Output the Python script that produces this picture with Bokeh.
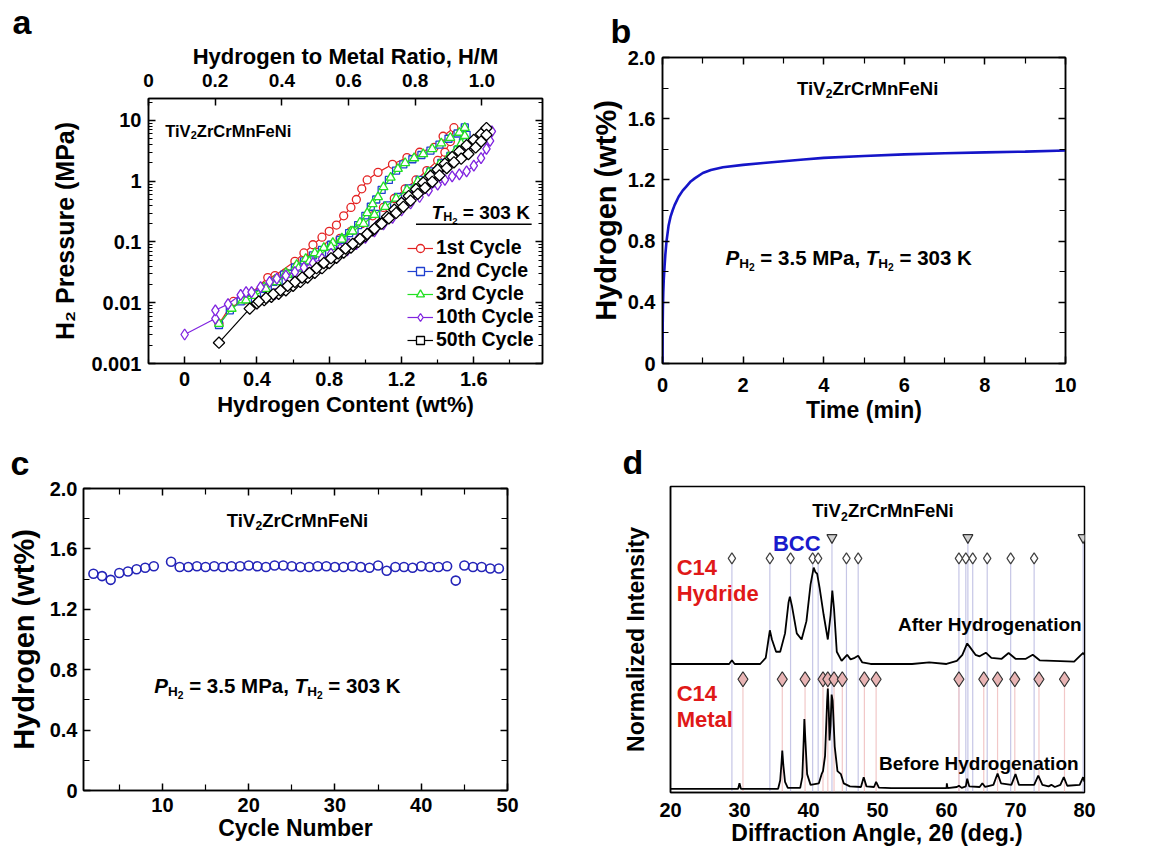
from bokeh.plotting import figure
from bokeh.models import (Range1d, LinearAxis, LogAxis, FixedTicker, CustomJSTickFormatter,
                          Legend, LegendItem)
from bokeh.layouts import column, row
from bokeh.embed import file_html
from bokeh.resources import INLINE
from bokeh.core.properties import value

FONT = "Liberation Sans"

# ---------------- DATA ----------------
# (a) PCI isotherms, hydrogen content (wt%) vs H2 pressure (MPa)
c1_wt = [0.19, 0.27, 0.33, 0.46, 0.50, 0.61, 0.66, 0.71, 0.76, 0.80, 0.84, 0.88, 0.92, 0.95, 0.98, 1.01,
         1.07, 1.15, 1.23, 1.30, 1.38, 1.43, 1.49,
         1.47, 1.44, 1.40, 1.34, 1.28, 1.22, 1.16, 1.10, 1.04, 0.98, 0.92, 0.86, 0.80, 0.74, 0.68, 0.62,
         0.56, 0.50, 0.44, 0.38]
c1_p = [0.0045, 0.0105, 0.011, 0.026, 0.028, 0.048, 0.066, 0.09, 0.12, 0.15, 0.19, 0.27, 0.37, 0.5, 0.75, 1.05,
        1.4, 1.9, 2.45, 3.0, 3.6, 5.5, 7.6,
        4.5, 3.0, 2.2, 1.5, 1.05, 0.75, 0.52, 0.37, 0.27, 0.2, 0.15, 0.115, 0.088, 0.068, 0.052, 0.04,
        0.031, 0.024, 0.018, 0.014]
c2_wt = [0.19, 0.25, 0.31, 0.37, 0.43, 0.49, 0.55, 0.61, 0.66, 0.71, 0.76, 0.81, 0.86, 0.91, 0.96, 1.00,
         1.03, 1.06, 1.09, 1.13, 1.17, 1.21, 1.26, 1.31, 1.36, 1.41, 1.46, 1.51, 1.55,
         1.56, 1.54, 1.51, 1.47, 1.42, 1.36, 1.30, 1.24, 1.18, 1.12, 1.06, 1.00, 0.94, 0.88, 0.82, 0.76,
         0.70, 0.64, 0.58, 0.52, 0.46, 0.40, 0.35]
c2_p = [0.0043, 0.0075, 0.0105, 0.0135, 0.017, 0.022, 0.029, 0.038, 0.048, 0.06, 0.074, 0.09, 0.108, 0.14,
        0.19, 0.27, 0.38, 0.5, 0.72, 1.05, 1.5, 1.9, 2.3, 2.7, 3.2, 4.0, 5.0, 6.1, 7.7,
        5.8, 4.4, 3.3, 2.6, 2.0, 1.45, 1.05, 0.76, 0.55, 0.4, 0.29, 0.21, 0.155, 0.115, 0.086, 0.065,
        0.05, 0.038, 0.03, 0.023, 0.018, 0.014, 0.0115]
c3_wt = [0.19, 0.26, 0.32, 0.38, 0.44, 0.50, 0.56, 0.62, 0.67, 0.72, 0.77, 0.82, 0.87, 0.92, 0.97, 1.01,
         1.04, 1.07, 1.10, 1.14, 1.18, 1.22, 1.27, 1.32, 1.37, 1.42, 1.47, 1.52, 1.55,
         1.55, 1.53, 1.50, 1.46, 1.41, 1.35, 1.29, 1.23, 1.17, 1.11, 1.05, 0.99, 0.93, 0.87, 0.81, 0.75,
         0.69, 0.63, 0.57, 0.51, 0.45, 0.39, 0.34]
c3_p = [0.0045, 0.008, 0.011, 0.014, 0.018, 0.024, 0.031, 0.042, 0.053, 0.066, 0.08, 0.097, 0.115, 0.15,
        0.21, 0.3, 0.42, 0.55, 0.8, 1.15, 1.6, 2.0, 2.4, 2.8, 3.4, 4.2, 5.2, 6.3, 7.6,
        5.6, 4.2, 3.2, 2.5, 1.9, 1.4, 1.0, 0.72, 0.52, 0.38, 0.28, 0.2, 0.15, 0.11, 0.083, 0.063,
        0.048, 0.037, 0.029, 0.022, 0.017, 0.013, 0.011]
c10_wt = [0.00, 0.17, 0.17, 0.24, 0.31, 0.34, 0.37, 0.42, 0.47, 0.51, 0.56, 0.61, 0.66, 0.71, 0.76, 0.81,
          0.86, 0.91, 0.96, 1.01, 1.06, 1.11, 1.16, 1.21, 1.26, 1.31, 1.36, 1.41, 1.46, 1.51, 1.56, 1.61,
          1.66, 1.70,
          1.69, 1.67, 1.64, 1.60, 1.56, 1.52, 1.48, 1.44, 1.40, 1.35, 1.30, 1.25, 1.20, 1.15, 1.10, 1.05,
          1.00, 0.95, 0.90, 0.85, 0.80, 0.75, 0.70, 0.65, 0.60, 0.55, 0.50, 0.45, 0.40]
c10_p = [0.003, 0.0055, 0.0075, 0.0095, 0.0135, 0.015, 0.015, 0.018, 0.022, 0.025, 0.028, 0.032, 0.038,
         0.045, 0.053, 0.064, 0.077, 0.093, 0.113, 0.14, 0.18, 0.24, 0.32, 0.43, 0.57, 0.76, 1.0, 1.35,
         1.8, 2.4, 3.1, 4.0, 5.2, 6.6,
         4.6, 3.4, 2.4, 1.8, 1.45, 1.3, 1.2, 1.05, 0.88, 0.7, 0.55, 0.43, 0.33, 0.25, 0.195, 0.15,
         0.117, 0.092, 0.073, 0.058, 0.047, 0.038, 0.031, 0.025, 0.021, 0.017, 0.014, 0.012, 0.0098]
c50_wt = [0.19, 0.36, 0.40, 0.44, 0.48, 0.52, 0.56, 0.60, 0.64, 0.68, 0.72, 0.76, 0.80, 0.84, 0.88, 0.92,
          0.96, 1.00, 1.04, 1.08, 1.12, 1.16, 1.20, 1.24, 1.28, 1.32, 1.36, 1.40, 1.44, 1.48, 1.52, 1.56,
          1.60, 1.64, 1.67,
          1.67, 1.64, 1.61, 1.57, 1.53, 1.49, 1.45, 1.41, 1.37, 1.33, 1.29, 1.25, 1.21, 1.17, 1.13, 1.09,
          1.05, 1.01, 0.97, 0.93, 0.89, 0.85, 0.81, 0.77, 0.73, 0.69, 0.65, 0.61, 0.57, 0.53, 0.49, 0.45,
          0.41]
c50_p = [0.0022, 0.008, 0.0098, 0.011, 0.0125, 0.014, 0.016, 0.019, 0.022, 0.026, 0.031, 0.037, 0.045,
         0.055, 0.067, 0.081, 0.1, 0.125, 0.155, 0.2, 0.26, 0.34, 0.44, 0.57, 0.74, 0.95, 1.22, 1.55, 1.95,
         2.5, 3.1, 3.9, 4.8, 6.0, 7.5,
         5.8, 4.5, 3.6, 2.8, 2.35, 2.05, 1.65, 1.25, 0.98, 0.78, 0.62, 0.48, 0.38, 0.3, 0.245, 0.2,
         0.165, 0.135, 0.112, 0.093, 0.078, 0.065, 0.054, 0.045, 0.037, 0.031, 0.026, 0.022, 0.019, 0.016,
         0.0138, 0.012, 0.0105]
cycle_labels = ["1st Cycle", "2nd Cycle", "3rd Cycle", "10th Cycle", "50th Cycle"]
hm_ticks = [0, 0.2, 0.4, 0.6, 0.8, 1.0]

# (b) absorption kinetics
time_min = [0, 0.005, 0.01, 0.02, 0.03, 0.05, 0.07, 0.1, 0.15, 0.2, 0.25, 0.3, 0.4, 0.5, 0.6, 0.7, 0.8,
            1.0, 1.2, 1.5, 2.0, 2.5, 3.0, 3.5, 4.0, 5.0, 6.0, 7.0, 8.0, 9.0, 10.0]
h_kin = [0, 0.25, 0.36, 0.47, 0.54, 0.63, 0.71, 0.80, 0.90, 0.96, 1.0, 1.035, 1.09, 1.13, 1.16, 1.19, 1.21,
         1.245, 1.265, 1.283, 1.298, 1.31, 1.322, 1.333, 1.344, 1.356, 1.367, 1.374, 1.38, 1.385, 1.392]

# (c) cycling capacity
cycle_no = [2, 3, 4, 5, 6, 7, 8, 9, 11, 12, 13, 14, 15, 16, 17, 18, 19, 20, 21, 22, 23, 24, 25, 26, 27, 28,
            29, 30, 31, 32, 33, 34, 35, 36, 37, 38, 39, 40, 41, 42, 43, 44, 45, 46, 47, 48, 49]
h_cycle = [1.435, 1.42, 1.395, 1.44, 1.45, 1.465, 1.475, 1.485, 1.515, 1.48, 1.48, 1.485, 1.48, 1.485, 1.48,
           1.485, 1.485, 1.49, 1.485, 1.48, 1.49, 1.49, 1.485, 1.48, 1.48, 1.485, 1.485, 1.48, 1.48, 1.485,
           1.48, 1.475, 1.49, 1.455, 1.48, 1.48, 1.475, 1.485, 1.48, 1.48, 1.485, 1.39, 1.49, 1.48, 1.48,
           1.47, 1.47]

# (d) XRD patterns (normalized)
tt_after = [20, 28.5, 28.9, 29.3, 33.0, 33.8, 34.2, 34.4, 34.7, 35.3, 35.9, 36.6, 37.1, 37.3, 37.6, 38.3,
            39.0, 39.7, 40.3, 40.75, 41.0, 41.25, 41.6, 42.2, 42.8, 43.2, 43.45, 43.7, 44.1, 44.8, 45.6,
            46.1, 46.7, 47.2, 47.8, 49, 55, 57.5, 60, 61.5, 62.3, 63.0, 63.4, 64.2, 64.8, 65.7, 66.5, 68.0,
            69.0, 70.0, 71.5, 72.5, 73.5, 78.5, 79.5, 79.8, 80.0]
int_after = [0.42, 0.42, 0.432, 0.42, 0.42, 0.44, 0.50, 0.53, 0.50, 0.46, 0.46, 0.52, 0.62, 0.64, 0.61,
             0.52, 0.50, 0.56, 0.68, 0.735, 0.72, 0.715, 0.67, 0.58, 0.50, 0.58, 0.66, 0.60, 0.46, 0.43,
             0.45, 0.435, 0.44, 0.447, 0.425, 0.42, 0.42, 0.425, 0.42, 0.43, 0.45, 0.487, 0.475, 0.45,
             0.445, 0.457, 0.44, 0.437, 0.456, 0.437, 0.437, 0.45, 0.432, 0.428, 0.45, 0.456, 0.45]
tt_before = [20, 29.8, 30.0, 30.2, 35.6, 35.9, 36.1, 36.2, 36.35, 36.6, 37.0, 38.8, 39.1, 39.3, 39.4, 39.55,
             39.8, 40.3, 41.5, 41.9, 42.1, 42.4, 42.7, 42.8, 42.95, 43.05, 43.2, 43.35, 43.5, 43.8, 44.2,
             44.7, 45.1, 46, 47.6, 48.0, 48.4, 49.5, 49.8, 50.2, 52, 60, 60.05, 60.15, 61.5, 61.8, 62.2,
             62.8, 63.0, 63.3, 64.8, 65.2, 65.6, 66.8, 67.4, 67.9, 69.4, 70.0, 70.5, 72.7, 73.3, 73.9,
             74.8, 75.2, 75.7, 76.5, 77.0, 77.5, 79.3, 79.8, 80]
int_before = [0.012, 0.012, 0.03, 0.012, 0.012, 0.04, 0.10, 0.137, 0.09, 0.035, 0.015, 0.015, 0.05, 0.17,
              0.24, 0.17, 0.06, 0.025, 0.03, 0.06, 0.07, 0.12, 0.30, 0.34, 0.26, 0.17, 0.22, 0.32, 0.30,
              0.15, 0.07, 0.06, 0.03, 0.02, 0.018, 0.05, 0.02, 0.018, 0.035, 0.016, 0.014, 0.014, 0.03,
              0.014, 0.018, 0.022, 0.015, 0.02, 0.045, 0.02, 0.018, 0.03, 0.018, 0.025, 0.062, 0.03, 0.025,
              0.06, 0.025, 0.025, 0.055, 0.025, 0.02, 0.025, 0.018, 0.025, 0.05, 0.022, 0.025, 0.05, 0.035]
hydride_pos = [28.9, 34.4, 37.4, 40.6, 41.4, 45.5, 47.2, 61.8, 62.8, 63.8, 65.9, 69.3, 72.7]
bcc_pos = [43.4, 63.1, 79.8]
metal_pos = [30.5, 36.2, 39.5, 42.1, 42.8, 43.7, 44.9, 48.1, 49.8, 61.8, 65.4, 67.4, 69.9, 73.4, 77.1]

# ---------------- helpers ----------------
W = {' ': 278, '%': 889, '(': 333, ')': 333, ',': 278, '.': 278, '/': 278, '=': 584,
     'A': 722, 'B': 722, 'C': 722, 'F': 611, 'H': 722, 'K': 722, 'M': 833, 'N': 722, 'P': 667,
     'T': 611, 'V': 667, 'Z': 611, 'a': 556, 'e': 556, 'i': 278, 'n': 611, 'r': 389, 'l': 278,
     't': 333}
for d in "0123456789":
    W[d] = 556


def twidth(t, size):
    return sum(W.get(c, 556) for c in t) / 1000.0 * size


def rich(p, x, y, segs, size, color="black", align="left"):
    parts = []
    for t, k in segs:
        if k == "s":
            s, dy = size * 0.66, size * 0.28
        elif k == "ss":
            s, dy = size * 0.5, size * 0.45
        else:
            s, dy = size, 0
        parts.append((t, k, s, dy, twidth(t, s)))
    total = sum(pp[4] for pp in parts)
    off = {"left": 0, "center": -total / 2, "right": -total}[align]
    for t, k, s, dy, w in parts:
        lead = len(t) - len(t.lstrip(" "))
        core = t.strip(" ")
        o = off + twidth(" " * lead, s)
        if core:
            p.text(x=[x], y=[y], text=[core], x_offset=o, y_offset=dy,
                   text_font=value(FONT), text_font_size=f"{s:.1f}px",
                   text_font_style="bold italic" if k == "i" else "bold",
                   text_color=color, text_align="left", text_baseline="alphabetic")
        off += w


def alloy(p, x, y, size, align):
    rich(p, x, y, [("TiV", "n"), ("2", "s"), ("ZrCrMnFeNi", "n")], size, align=align)


def cond(p, x, y, size):
    rich(p, x, y, [("P", "i"), ("H", "s"), ("2", "ss"), (" = 3.5 MPa, ", "n"),
                   ("T", "i"), ("H", "s"), ("2", "ss"), (" = 303 K", "n")], size, align="center")


def style_axis(ax, lab=20, tit=23, tick_in=7, minor_in=4):
    ax.axis_line_width = 1.5
    ax.axis_line_color = "black"
    ax.major_tick_in = tick_in
    ax.major_tick_out = 0
    ax.minor_tick_in = minor_in
    ax.minor_tick_out = 0
    ax.major_tick_line_width = 1.5
    ax.minor_tick_line_width = 1.2
    ax.major_label_text_font = FONT
    ax.major_label_text_font_style = "bold"
    ax.major_label_text_font_size = f"{lab}px"
    ax.major_label_text_color = "black"
    ax.axis_label_text_font = FONT
    ax.axis_label_text_font_style = "bold"
    ax.axis_label_text_font_size = f"{tit}px"
    ax.axis_label_text_color = "black"


blank = CustomJSTickFormatter(code="return '';")


def mirror(p, side, ticker, log=False, minor_in=4, **kw):
    ax = LogAxis(ticker=ticker, **kw) if log else LinearAxis(ticker=ticker, **kw)
    style_axis(ax, lab=10, minor_in=minor_in)
    ax.formatter = blank
    ax.major_label_standoff = 0
    p.add_layout(ax, side)
    return ax


def base_fig(w, h, xr, yr, borders, letter, letter_x, letter_gap, **kw):
    l, r, t, b = borders
    p = figure(width=w, height=h, x_range=xr, y_range=yr, output_backend="svg",
               toolbar_location=None, min_border_left=l, min_border_right=r,
               min_border_top=t, min_border_bottom=b, **kw)
    p.grid.visible = False
    p.outline_line_color = "black"
    p.outline_line_width = 1.5
    p.background_fill_color = "white"
    p.border_fill_color = "white"
    # panel letter as the figure title
    p.title.text = letter
    p.title.text_font = FONT
    p.title.text_font_size = "34px"
    p.title.text_font_style = "bold"
    p.title.text_color = "black"
    p.title.align = "left"
    p.title.offset = letter_x
    p.title.standoff = letter_gap
    return p


fmt1 = CustomJSTickFormatter(code="return tick == 0 ? '0' : tick.toFixed(1);")
fmt0 = CustomJSTickFormatter(code="return tick.toFixed(0);")
fmtlog = CustomJSTickFormatter(code="return String(tick);")

# ---------------- (a) ----------------
pa = base_fig(586, 432, Range1d(-0.2, 1.98), Range1d(0.001, 23), (148, 44, 96, 69), "a", -136, 0,
              y_axis_type="log")
xt_a = FixedTicker(ticks=[0, 0.4, 0.8, 1.2, 1.6, 2.0], minor_ticks=[-0.2, 0.2, 0.6, 1.0, 1.4, 1.8])
log_minor = [k * 10.0 ** e for e in range(-3, 2) for k in range(2, 10)] + [20]
yt_a = FixedTicker(ticks=[0.001, 0.01, 0.1, 1, 10], minor_ticks=log_minor)
pa.xaxis.ticker = xt_a
pa.xaxis.formatter = fmt1
pa.xaxis.axis_label = "Hydrogen Content (wt%)"
pa.yaxis.ticker = yt_a
pa.yaxis.formatter = fmtlog
pa.yaxis.axis_label = "H₂ Pressure (MPa)"
for ax in pa.xaxis + pa.yaxis:
    style_axis(ax, lab=20, tit=22, minor_in=4)
pa.yaxis.axis_label_text_font_size = "25px"
pa.xaxis.major_label_standoff = 8
pa.xaxis.axis_label_standoff = 3
pa.yaxis.major_label_standoff = 7
pa.yaxis.axis_label_standoff = 9
pa.extra_x_ranges = {"hm": Range1d(0, 1.182)}
top_a = LinearAxis(x_range_name="hm", ticker=FixedTicker(ticks=hm_ticks),
                   axis_label="Hydrogen to Metal Ratio, H/M", formatter=fmt1)
style_axis(top_a, lab=19, tit=22)
top_a.major_label_standoff = 12
top_a.axis_label_standoff = 2
pa.add_layout(top_a, "above")
mirror(pa, "right", FixedTicker(ticks=[0.001, 0.01, 0.1, 1, 10], minor_ticks=log_minor), log=True)

series = [
    (c1_wt, c1_p, "#e42222", "circle", 8, 0),
    (c2_wt, c2_p, "#2040d0", "square", 7, 0),
    (c3_wt, c3_p, "#22e022", "triangle", 9, 0),
    (c10_wt, c10_p, "#8024e0", "diamond", 11, 0),
    (c50_wt, c50_p, "#000000", "square", 8, 0.785398),
]
items = []
for (xs, ys, col, mk, sz, ang), lab in zip(series, cycle_labels):
    lr = pa.line(xs, ys, line_color=col, line_width=1.2)
    sr = pa.scatter(xs, ys, marker=mk, size=sz, angle=ang, line_color=col, fill_color="white",
                    line_width=1.3)
    items.append(LegendItem(label=lab, renderers=[lr, sr]))
leg = Legend(items=items, location=(257, 10), glyph_width=26, glyph_height=20, label_height=20,
             spacing=0, padding=2, margin=0, label_standoff=3, border_line_alpha=0,
             background_fill_alpha=0, label_text_font=FONT, label_text_font_size="19.5px",
             label_text_font_style="bold", label_text_color="black")
pa.add_layout(leg)
alloy(pa, -0.108, 6.8, 16.5, "left")
rich(pa, 1.91, 0.31, [("T", "i"), ("H", "s"), ("2", "ss"), (" = 303 K", "n")], 19, align="right")
pa.segment(x0=[1.28], y0=[0.195], x1=[1.92], y1=[0.195], line_color="black", line_width=1.5)

# ---------------- (b) ----------------
pb = base_fig(564, 432, Range1d(0, 10), Range1d(0, 2.0), (76, 85, 57, 69), "b", -52, 16)
xt_b = FixedTicker(ticks=[0, 2, 4, 6, 8, 10], minor_ticks=[1, 3, 5, 7, 9])
yt_b = FixedTicker(ticks=[0, 0.4, 0.8, 1.2, 1.6, 2.0], minor_ticks=[0.2, 0.6, 1.0, 1.4, 1.8])
pb.xaxis.ticker = xt_b
pb.xaxis.formatter = fmt0
pb.xaxis.axis_label = "Time (min)"
pb.yaxis.ticker = yt_b
pb.yaxis.formatter = fmt1
pb.yaxis.axis_label = "Hydrogen (wt%)"
for ax in pb.xaxis + pb.yaxis:
    style_axis(ax, lab=20, tit=23, minor_in=6)
pb.yaxis.axis_label_text_font_size = "29px"
pb.xaxis.major_label_standoff = 14
pb.xaxis.axis_label_standoff = 2
pb.yaxis.major_label_standoff = 7
pb.yaxis.axis_label_standoff = 3
mirror(pb, "above", xt_b, minor_in=6)
mirror(pb, "right", yt_b, minor_in=6)
pb.line(time_min, h_kin, line_color="#1515c8", line_width=2.6)
alloy(pb, 5.09, 1.797, 18.5, "center")
cond(pb, 4.62, 0.693, 20.5)

# ---------------- (c) ----------------
pc = base_fig(586, 426, Range1d(0.85, 50), Range1d(0, 2.0), (83, 79, 56, 68), "c", -73, 13)
xt_c = FixedTicker(ticks=[10, 20, 30, 40, 50], minor_ticks=[5, 15, 25, 35, 45])
yt_c = FixedTicker(ticks=[0, 0.4, 0.8, 1.2, 1.6, 2.0], minor_ticks=[0.2, 0.6, 1.0, 1.4, 1.8])
pc.xaxis.ticker = xt_c
pc.xaxis.formatter = fmt0
pc.xaxis.axis_label = "Cycle Number"
pc.yaxis.ticker = yt_c
pc.yaxis.formatter = fmt1
pc.yaxis.axis_label = "Hydrogen (wt%)"
for ax in pc.xaxis + pc.yaxis:
    style_axis(ax, lab=20, tit=23, minor_in=6)
pc.yaxis.axis_label_text_font_size = "29px"
pc.xaxis.major_label_standoff = 7
pc.xaxis.axis_label_standoff = 0
pc.yaxis.major_label_standoff = 6
pc.yaxis.axis_label_standoff = 7
mirror(pc, "above", xt_c, minor_in=6)
mirror(pc, "right", yt_c, minor_in=6)
pc.scatter(cycle_no, h_cycle, marker="circle", size=9, line_color="#2424b8", fill_color=None,
           line_width=1.6)
alloy(pc, 25.65, 1.788, 18.5, "center")
cond(pc, 23.34, 0.695, 20.5)

# ---------------- (d) ----------------
pd_ = base_fig(564, 426, Range1d(20, 80), Range1d(0, 1), (84, 66, 54, 66), "d", -48, 12)
pd_.xaxis.ticker = FixedTicker(ticks=[20, 30, 40, 50, 60, 70, 80])
pd_.xaxis.formatter = fmt0
pd_.xaxis.axis_label = "Diffraction Angle, 2θ (deg.)"
pd_.yaxis.ticker = FixedTicker(ticks=[0.5])
pd_.yaxis.formatter = blank
pd_.yaxis.axis_label = "Normalized Intensity"
for ax in pd_.xaxis + pd_.yaxis:
    style_axis(ax, lab=20, tit=23, tick_in=0, minor_in=0)
pd_.yaxis.major_label_text_font_size = "10px"
pd_.xaxis.major_label_standoff = 10
pd_.xaxis.axis_label_standoff = 0
pd_.yaxis.major_label_standoff = 0
pd_.yaxis.axis_label_standoff = 22

HYD_Y, BCC_Y, MET_Y = 0.765, 0.833, 0.37
pd_.segment(x0=hydride_pos, y0=[0] * len(hydride_pos), x1=hydride_pos, y1=[HYD_Y] * len(hydride_pos),
            line_color="#c6c6e6", line_width=1.2)
pd_.segment(x0=bcc_pos, y0=[0] * len(bcc_pos), x1=bcc_pos, y1=[BCC_Y] * len(bcc_pos),
            line_color="#c6c6e6", line_width=1.2)
pd_.segment(x0=metal_pos, y0=[0] * len(metal_pos), x1=metal_pos, y1=[MET_Y] * len(metal_pos),
            line_color="#f2c8c8", line_width=1.2)
pd_.line(tt_after, int_after, line_color="black", line_width=1.8)
pd_.line(tt_before, int_before, line_color="black", line_width=1.8)
pd_.scatter(hydride_pos, [HYD_Y] * len(hydride_pos), marker="diamond", size=11, fill_color="white",
            line_color="#404040", line_width=1.2)
pd_.scatter(bcc_pos, [BCC_Y] * len(bcc_pos), marker="inverted_triangle", size=10, fill_color="#d0d0d0",
            line_color="#303030", line_width=1.2)
pd_.scatter(metal_pos, [MET_Y] * len(metal_pos), marker="diamond", size=15, fill_color="#e8b4b4",
            line_color="#303030", line_width=1.2)
alloy(pd_, 50.8, 0.92, 18.5, "center")
rich(pd_, 38.3, 0.814, [("BCC", "n")], 22, color="#1a1acc", align="center")
rich(pd_, 20.9, 0.735, [("C14", "n")], 22, color="#e01818")
rich(pd_, 20.9, 0.65, [("Hydride", "n")], 22, color="#e01818")
rich(pd_, 20.9, 0.323, [("C14", "n")], 22, color="#e01818")
rich(pd_, 20.9, 0.239, [("Metal", "n")], 22, color="#e01818")
rich(pd_, 79.6, 0.55, [("After Hydrogenation", "n")], 19, align="right")
rich(pd_, 79.0, 0.095, [("Before Hydrogenation", "n")], 19, align="right")

layout = column(row(column(pa), column(pb)), row(column(pc), column(pd_)))
open("out.html", "w").write(file_html(layout, INLINE))
